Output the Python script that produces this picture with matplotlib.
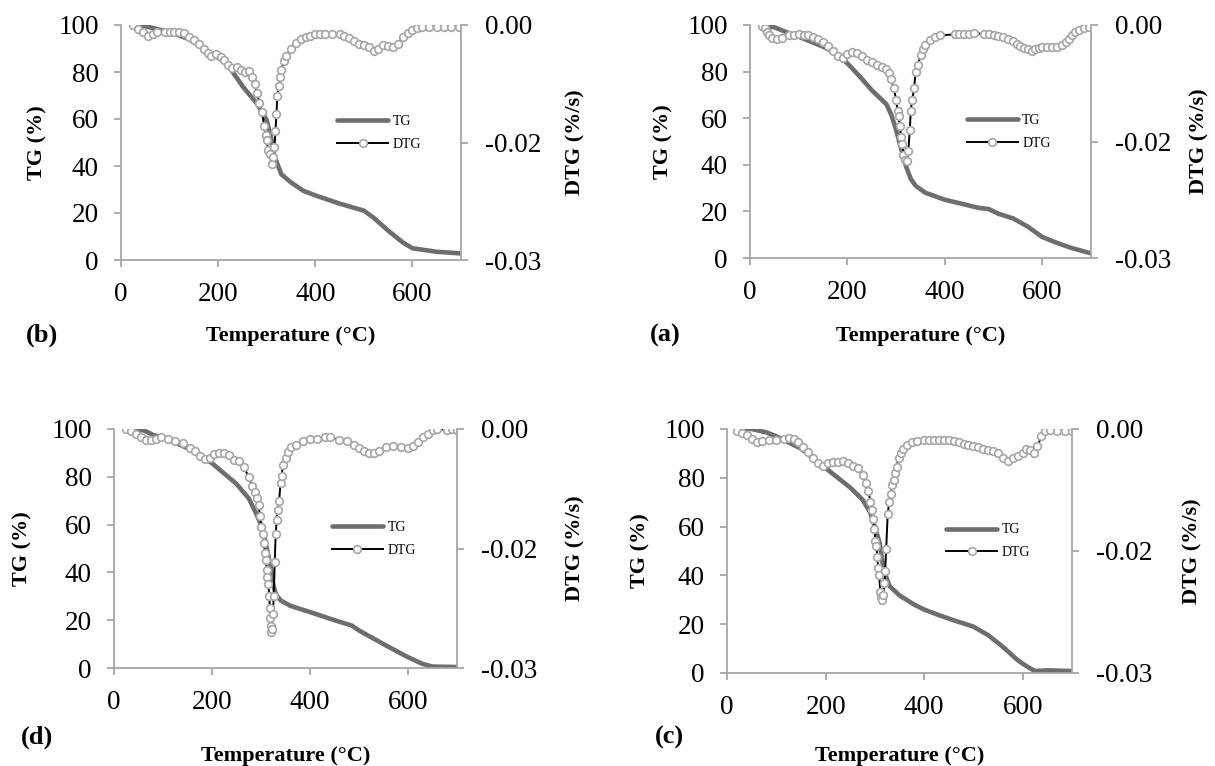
import matplotlib
matplotlib.use("Agg")
import matplotlib.pyplot as plt
import numpy as np

plt.rcParams['font.family'] = ['Liberation Serif', 'DejaVu Serif']

# ---- data ----
# DTG values are stored in 1e-3 %/s
DTG_UNIT = 1e-3

# (b)
tg_b_T = [21, 50, 100, 140, 200, 220, 250, 280, 300, 310, 315, 320, 330, 350, 375,
          400, 450, 500, 520, 550, 580, 600, 650, 700]
tg_b = [100, 99.5, 97, 94, 86, 83, 74, 66.5, 59.5, 51, 44, 42, 36.5, 33, 29.5,
        27.5, 24, 21, 18, 12.5, 7.5, 5, 3.5, 2.8]
dtg_b_T = [25, 35, 45, 55, 65, 75, 90, 100, 110, 120, 130, 140, 150, 160, 170, 180,
           185, 195, 205, 212, 220, 228, 238, 248, 256, 264, 270, 275, 280, 285,
           290, 295, 298, 300, 303, 306, 310, 313, 316, 318, 320, 322, 325, 328,
           330, 335, 340, 350, 360, 370, 380, 390, 400, 410, 420, 435, 450, 460,
           470, 480, 490, 500, 510, 520, 530, 540, 550, 560, 570, 580, 590, 600,
           610, 620, 635, 650, 665, 680, 695]
dtg_b = [0, -0.45, -0.9, -1.35, -1.2, -0.9, -0.9, -0.9, -0.9, -0.9, -1.05, -1.5,
         -1.95, -2.4, -3.0, -3.6, -3.9, -3.75, -4.05, -4.5, -5.1, -5.55, -5.4, -5.7,
         -6.0, -5.85, -6.6, -7.5, -8.7, -9.9, -11.1, -12.9, -14.1, -14.7, -15.9,
         -16.5, -17.7, -16.8, -15.6, -13.5, -11.4, -9.0, -7.8, -6.6, -5.7, -4.65,
         -3.9, -3.0, -2.25, -1.8, -1.5, -1.35, -1.2, -1.14, -1.11, -1.14, -1.2,
         -1.35, -1.65, -2.1, -2.4, -2.55, -2.85, -3.3, -3.0, -2.55, -2.7, -2.85,
         -2.4, -1.5, -1.05, -0.6, -0.36, -0.3, -0.3, -0.3, -0.3, -0.3, -0.3]

# (a)
tg_a_T = [25, 50, 80, 100, 150, 175, 200, 225, 250, 280, 290, 300, 310, 320, 330,
          340, 360, 400, 440, 470, 490, 510, 540, 570, 600, 630, 660, 700]
tg_a = [99.5, 99, 96.5, 95, 90.7, 88, 83.5, 78, 72, 66, 61.5, 55, 47, 39.5, 34,
        31, 28, 25, 23, 21.5, 21, 19, 17, 13.5, 9, 6.5, 4.3, 2]
dtg_a_T = [25, 30, 35, 40, 45, 55, 65, 80, 90, 100, 110, 120, 130, 140, 150, 160,
           170, 180, 190, 200, 210, 220, 230, 240, 250, 260, 270, 280, 285, 290,
           295, 300, 303, 305, 308, 310, 313, 315, 318, 322, 325, 328, 330, 333,
           337, 340, 345, 350, 355, 360, 370, 380, 390, 420, 430, 440, 450, 460,
           480, 490, 500, 510, 520, 530, 540, 548, 555, 562, 570, 578, 586, 593,
           600, 610, 620, 630, 640, 648, 655, 662, 668, 675, 685, 695]
dtg_a = [-0.15, -0.45, -0.9, -1.35, -1.65, -1.8, -1.65, -1.35, -1.29, -1.2, -1.26,
         -1.35, -1.5, -1.8, -2.25, -2.7, -3.3, -4.05, -4.2, -3.75, -3.45, -3.6,
         -4.05, -4.5, -4.8, -5.1, -5.4, -5.7, -6.15, -6.9, -8.1, -9.6, -11.1,
         -11.7, -13.05, -14.4, -15.3, -16.8, -17.4, -17.55, -16.2, -13.5, -11.1,
         -9.6, -8.1, -6.0, -5.1, -3.9, -3.15, -2.55, -1.95, -1.5, -1.35, -1.2,
         -1.2, -1.2, -1.14, -1.05, -1.14, -1.2, -1.29, -1.41, -1.56, -1.8, -2.1,
         -2.4, -2.7, -3.0, -3.15, -3.3, -3.15, -3.0, -2.85, -2.85, -2.85, -2.79,
         -2.55, -2.25, -1.8, -1.35, -0.9, -0.6, -0.36, -0.3]

# (d)
tg_d_T = [25, 60, 80, 100, 150, 200, 250, 275, 290, 300, 310, 320, 325, 330, 340,
          360, 400, 450, 485, 500, 550, 600, 630, 650, 700]
tg_d = [100, 99.5, 97.5, 96.5, 92, 85.7, 77, 71, 64.7, 60, 52, 42, 35, 31, 28.3,
        26, 23.4, 20, 17.8, 15.7, 10, 4.5, 1.7, 0.6, 0.4]
dtg_d_T = [25, 35, 45, 55, 65, 75, 85, 95, 110, 125, 140, 155, 165, 175, 185, 195,
           205, 215, 225, 235, 245, 255, 265, 275, 282, 287, 292, 295, 298, 301,
           304, 306, 308, 310, 312, 313, 315, 317, 318, 319, 320, 321, 322, 324,
           326, 328, 330, 332, 334, 337, 340, 342, 345, 350, 355, 362, 372, 385,
           400, 415, 430, 440, 460, 475, 490, 500, 510, 520, 530, 540, 555, 570,
           585, 600, 610, 620, 630, 640, 650, 660, 680, 690, 700]
dtg_d = [0, -0.3, -0.6, -1.05, -1.35, -1.35, -1.2, -1.05, -1.2, -1.5, -1.8, -2.4,
         -2.7, -3.45, -3.75, -3.6, -3.15, -3.0, -3.0, -3.3, -3.9, -4.05, -4.8, -6.0,
         -7.2, -7.95, -8.7, -9.6, -10.95, -12.3, -13.2, -14.25, -15.6, -16.5,
         -17.7, -18.6, -19.5, -21.0, -22.5, -23.7, -24.75, -25.5, -25.05, -23.25,
         -21.0, -16.65, -13.2, -11.4, -10.2, -9.0, -6.75, -5.85, -4.5, -3.6, -2.85,
         -2.25, -1.95, -1.5, -1.2, -1.2, -1.05, -1.05, -1.35, -1.5, -1.95, -2.4,
         -2.7, -3.0, -3.0, -2.7, -2.25, -2.1, -2.25, -2.4, -2.1, -1.65, -1.05, -0.6,
         -0.15, 0, -0.15, 0, -0.15]

# (c)
tg_c_T = [25, 50, 80, 100, 150, 200, 225, 250, 275, 290, 300, 310, 315, 320, 330,
          350, 380, 400, 430, 460, 500, 530, 560, 590, 610, 625, 650, 700]
tg_c = [100, 100, 98.6, 97, 92, 84, 80, 76, 71, 66, 60, 53, 46, 41, 35.6, 31.8,
        28, 26, 23.7, 21.6, 19, 15.5, 10.7, 5.2, 2.5, 0.8, 1.1, 0.8]
dtg_c_T = [20, 30, 40, 50, 60, 70, 85, 100, 115, 125, 135, 145, 155, 165, 175, 185,
           195, 205, 215, 225, 235, 245, 255, 265, 275, 282, 287, 291, 294, 297,
           299, 301, 303, 305, 307, 309, 311, 313, 315, 317, 319, 321, 323, 326,
           329, 332, 335, 338, 341, 344, 348, 353, 358, 365, 375, 385, 400, 410,
           420, 430, 440, 450, 460, 470, 480, 490, 500, 510, 520, 530, 540, 550,
           560, 570, 580, 590, 600, 607, 615, 622, 630, 638, 645, 655, 670, 685,
           700]
dtg_c = [-0.3, -0.45, -0.75, -1.2, -1.65, -1.5, -1.35, -1.35, -1.2, -1.05, -1.2,
         -1.65, -2.25, -2.85, -3.6, -4.2, -4.5, -4.2, -4.05, -4.05, -3.9, -4.2,
         -4.5, -4.8, -5.7, -6.6, -7.65, -9.0, -9.9, -11.1, -12.3, -13.8, -14.4,
         -15.75, -17.1, -18.0, -20.1, -20.7, -21.0, -20.4, -18.9, -17.4, -14.7,
         -10.5, -9.0, -7.95, -6.9, -6.3, -5.4, -4.65, -3.6, -3.0, -2.4, -1.95,
         -1.65, -1.5, -1.35, -1.35, -1.35, -1.35, -1.35, -1.4, -1.5, -1.65, -1.8,
         -1.95, -2.1, -2.25, -2.4, -2.55, -2.7, -3.0, -3.6, -3.9, -3.6, -3.3, -3.0,
         -2.4, -2.55, -3.0, -2.1, -0.9, -0.3, -0.15, -0.24, -0.24, -0.24]

panels = [
    # label, TG x, TG y, DTG x, DTG y, axes rect in pixels (left, top, right, bottom)
    ("(b)", tg_b_T, tg_b, dtg_b_T, dtg_b, (121, 25, 461, 260)),
    ("(a)", tg_a_T, tg_a, dtg_a_T, dtg_a, (750, 25, 1091, 258)),
    ("(d)", tg_d_T, tg_d, dtg_d_T, dtg_d, (114, 429, 457, 668)),
    ("(c)", tg_c_T, tg_c, dtg_c_T, dtg_c, (727, 429, 1072, 673)),
]
# pixel positions of the free texts of each panel
panel_label_pos = {"(b)": (42, 335), "(a)": (665, 335), "(d)": (37, 737), "(c)": (669, 737)}
xlabel_y = {"(b)": 336, "(a)": 336, "(d)": 756, "(c)": 756}
tg_label_x = {"(b)": 37, "(a)": 663, "(d)": 22, "(c)": 640}
dtg_label_x = {"(b)": 575, "(a)": 1199, "(d)": 575, "(c)": 1192}

W, H = 1215, 766
AXIS_GRAY = '#a6a6a6'
TG_GRAY = '#6e6e6e'
MARK_GRAY = '#a6a6a6'

fig = plt.figure(figsize=(W / 100, H / 100), dpi=100)


def style_axis(ax):
    ax.spines['top'].set_visible(False)
    for s in ['left', 'bottom', 'right']:
        ax.spines[s].set_color(AXIS_GRAY)
        ax.spines[s].set_linewidth(1.3)
    ax.tick_params(direction='out', length=5, width=1.3, color=AXIS_GRAY,
                   labelsize=19.5, pad=11)


for label, tx, ty, dx, dy, (l, t, r, b) in panels:
    ax = fig.add_axes([l / W, (H - b) / H, (r - l) / W, (b - t) / H])
    ax.plot(tx, ty, color=TG_GRAY, lw=3.3, solid_capstyle='round', label='TG')
    ax.set_xlim(0, 700)
    ax.set_ylim(0, 100)
    ax.set_xticks([0, 200, 400, 600])
    ax.set_yticks([0, 20, 40, 60, 80, 100])
    style_axis(ax)
    ax.spines['right'].set_visible(False)
    ax.tick_params(axis='x', pad=11)

    ax2 = ax.twinx()
    ax2.plot(dx, np.array(dy) * DTG_UNIT, color='black', lw=1.4, marker='o',
             markersize=5.5, markerfacecolor='white', markeredgecolor=MARK_GRAY,
             markeredgewidth=1.2, label='DTG')
    ax2.set_ylim(-0.03, 0)
    ax2.set_yticks([-0.03, -0.015, 0])
    ax2.set_yticklabels(['-0.03', '-0.02', '0.00'])
    style_axis(ax2)
    ax2.spines['left'].set_visible(False)
    ax2.spines['bottom'].set_visible(False)
    ax2.tick_params(axis='y', pad=12)

    ax.set_ylabel('TG (%)', fontsize=16, fontweight='bold', va='center')
    ax.yaxis.set_label_coords((tg_label_x[label] - l) / (r - l), 0.5)
    ax2.set_ylabel('DTG (%/s)', fontsize=16, fontweight='bold', va='center',
                   rotation=90)
    ax2.yaxis.set_label_coords((dtg_label_x[label] - l) / (r - l), 0.5)
    ax.set_xlabel('Temperature (°C)', fontsize=16, fontweight='bold', va='center')
    ax.xaxis.set_label_coords(0.5, (b - xlabel_y[label]) / (b - t))

    h1, l1 = ax.get_legend_handles_labels()
    h2, l2 = ax2.get_legend_handles_labels()
    ax2.legend(h1 + h2, l1 + l2, loc='center left', bbox_to_anchor=(0.635, 0.54),
               frameon=False, fontsize=10, handlelength=3.7, handletextpad=0.3,
               labelspacing=0.7, borderpad=0, borderaxespad=0, numpoints=1)

    px, py = panel_label_pos[label]
    fig.text(px / W, 1 - py / H, label, fontsize=19, fontweight='bold',
             ha='center', va='center')

fig.savefig('out.png', dpi=100)
